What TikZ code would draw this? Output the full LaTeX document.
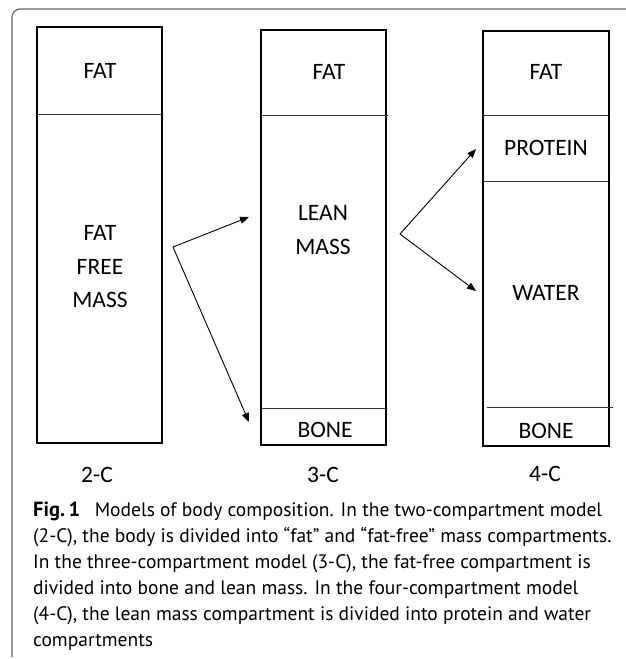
\documentclass[tikz,border=0pt]{standalone}
\usepackage{fontspec}
\setmainfont{Carlito}
\newfontfamily\capfont{PT Sans}
\usetikzlibrary{arrows.meta}
\begin{document}
\begin{tikzpicture}[x=1pt,y=-1pt,
  outer/.style={draw=black, line width=2.2pt},
  div/.style={draw=black!80, line width=1pt},
  lbl/.style={font=\fontsize{23.5}{33.5}\selectfont, align=center, inner sep=0pt},
  arr/.style={-{Triangle[length=9pt,width=7pt]}, line width=0.9pt},
  capline/.style={anchor=base west, inner sep=0pt, font=\capfont\fontsize{19.5}{26}\selectfont},
  frameline/.style={draw=black!60, line width=1.2pt}]
\useasboundingbox (0,0) rectangle (625,659);
\draw[frameline, rounded corners=8pt] (626,9) -- (12,9) -- (12,657);
% box 1 (2-C)
\draw[outer] (37,27) rectangle (162,443);
\draw[div] (37,114) -- (162,114);
\node[lbl] (fat1) at (100,71) {FAT};
\node[lbl] (ffm) at (100,267) {FAT\\FREE\\MASS};
\node[lbl] (c2) at (97,475) {2-C};
% box 2 (3-C)
\draw[outer] (261,30) rectangle (386,445);
\draw[div] (261,115) -- (388,115);
\draw[div] (261,408) -- (386,408);
\node[lbl] (fat2) at (329,72) {FAT};
\node[lbl] (lean) at (323,230) {LEAN\\MASS};
\node[lbl] (bone2) at (325,430) {BONE};
\node[lbl] (c3) at (323,475) {3-C};
% box 3 (4-C)
\draw[outer] (483,31) rectangle (609,446);
\draw[div] (483,115) -- (609,115);
\draw[div] (483,181) -- (609,181);
\draw[div] (487,407) -- (613,407);
\node[lbl] (fat3) at (546,72) {FAT};
\node[lbl] (prot) at (546,148) {PROTEIN};
\node[lbl] (water) at (546,293) {WATER};
\node[lbl] (bone3) at (546,431) {BONE};
\node[lbl] (c4) at (545,474) {4-C};
% arrows
\coordinate (s1) at (173,247);
\coordinate (e1a) at (249,217);
\coordinate (e1b) at (249,422);
\coordinate (s2) at (400,234);
\coordinate (e2a) at (476,149);
\coordinate (e2b) at (476,291);
\draw[arr] (s1) -- (e1a);
\draw[arr] (s1) -- (e1b);
\draw[arr] (s2) -- (e2a);
\draw[arr] (s2) -- (e2b);
% caption
\node[capline] (cap1) at (33,516) {{\fontsize{20.5}{26}\selectfont\textbf{Fig.\,1}}\hspace{0.75em}Models of body composition. In the two-compartment model};
\node[capline] (cap2) at (33,542) {(2-C), the body is divided into “fat” and “fat-free” mass compartments.};
\node[capline] (cap3) at (33,568) {In the three-compartment model (3-C), the fat-free compartment is};
\node[capline] (cap4) at (33,594) {divided into bone and lean mass. In the four-compartment model};
\node[capline] (cap5) at (33,620) {(4-C), the lean mass compartment is divided into protein and water};
\node[capline] (cap6) at (33,646) {compartments};
\end{tikzpicture}
\end{document}
